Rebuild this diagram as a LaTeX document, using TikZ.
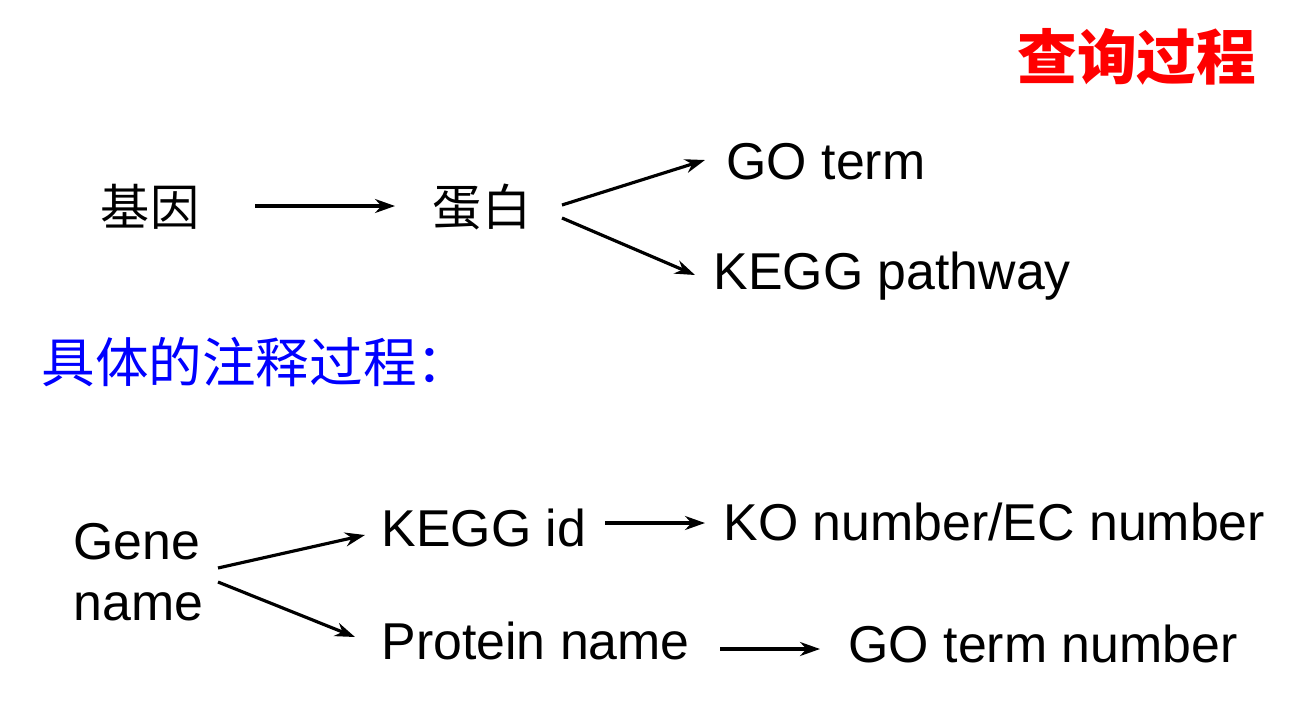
\documentclass[tikz,border=0pt]{standalone}
\usepackage{fontspec}
\setmainfont{Liberation Sans}
\newfontfamily\cjk{Noto Sans CJK SC}
\usetikzlibrary{arrows.meta,positioning,calc}
\begin{document}
\begin{tikzpicture}[x=0.02cm, y=-0.02cm, ->, >={Stealth[length=4mm,width=2.8mm]}, line width=1.8pt,
  en/.style = {inner sep=0, anchor=west, font=\fontsize{29.5}{35}\selectfont},
  zh/.style = {inner sep=0, font=\cjk\fontsize{28}{32}\selectfont}]
  \useasboundingbox (0,0) rectangle (1312,700);
  % Title
  \node[zh, anchor=east, text=red, font=\cjk\bfseries\fontsize{34}{38}\selectfont] (title) at (1258,57) {查询过程};
  % Upper flow
  \node[zh] (gene) at (150,207) {基因};
  \node[zh] (prot) at (482,207) {蛋白};
  \node[en] (go) at (725,162) {GO term};
  \node[en] (kegg) at (712,276) {KEGG pathway};
  \node[zh, anchor=west, text=blue, font=\cjk\fontsize{30.5}{34}\selectfont] (detail) at (40,362) {具体的注释过程：};
  % Lower flow
  \node[en, align=left] (gname) at (72,572) {Gene\\name};
  \node[en] (keggid) at (380,528) {KEGG id};
  \node[en] (ko) at (722,522) {KO number/EC number};
  \node[en] (pname) at (380,641) {Protein name};
  \node[en] (goterm) at (847,644) {GO term number};
  % Paths
  \draw ($(gene.center)+(105,-1)$) -- ($(prot.center)+(-87,-1)$);
  \draw ($(prot.center)+(80,-2)$) -- ($(go.west)+(-20,-2)$);
  \draw ($(prot.center)+(80,11)$) -- ($(kegg.west)+(-17,-1)$);
  \draw ($(gname.west)+(146,-4)$) -- ($(keggid.west)+(-15,7)$);
  \draw ($(gname.west)+(146,10)$) -- ($(pname.west)+(-25,-4)$);
  \draw ($(keggid.west)+(225,-5)$) -- ($(ko.west)+(-17,1)$);
  \draw ($(pname.west)+(340,8)$) -- ($(goterm.west)+(-27,5)$);
\end{tikzpicture}
\end{document}
